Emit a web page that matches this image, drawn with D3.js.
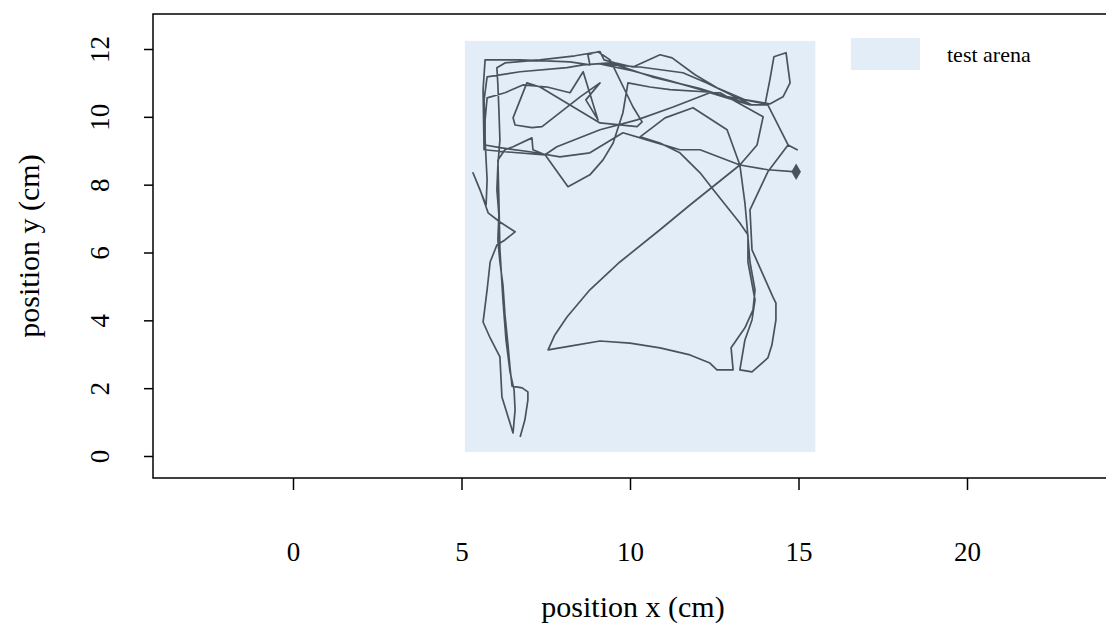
<!DOCTYPE html>
<html>
<head>
<meta charset="utf-8">
<script src="https://cdn.jsdelivr.net/npm/d3@7"></script>
<style>
  body { margin: 0; background: #fff; }
  svg { display: block; }
  text { font-family: "Liberation Serif", "Times New Roman", serif; fill: #000; }
</style>
</head>
<body>
<svg id="chart" width="1106" height="626"></svg>
<script>
// Axis ticks
const xTicks = [0, 5, 10, 15, 20];
const yTicks = [0, 2, 4, 6, 8, 10, 12];

// Arena extent (cm)
const arenaX = [5.1, 15.5];
const arenaY = [0.12, 12.24];
const legendLabel = "test arena";

// Tracked position over time (cm)
const trackX = [
  6.74, 6.88, 6.97, 6.97, 6.80, 6.50, 6.44, 6.38, 6.29, 6.23,
  6.14, 6.08, 6.11, 6.05, 6.08, 6.14, 6.11, 6.08, 6.05, 6.29,
  7.33, 8.37, 9.11, 9.23, 9.55, 10.09, 10.89, 11.25, 11.93, 12.58,
  13.41, 14.01, 14.15, 14.27, 14.63, 14.75, 14.54, 14.15,
  12.73, 11.19, 10.06, 9.11, 10.30, 11.57, 12.28, 13.62, 12.08, 10.65, 9.41,
  8.61, 8.13, 6.74, 5.76, 5.67, 5.70, 5.76,
  5.73, 5.34, 5.55, 5.79, 6.14, 6.59, 6.29, 6.05, 5.85, 5.76,
  5.64, 5.85, 6.14, 6.20, 6.53, 6.59, 6.56, 6.44, 6.32, 6.23,
  6.14, 6.11, 6.08, 6.29, 6.53, 7.09, 7.12, 7.48, 8.16, 8.81,
  9.20, 9.50, 9.79, 9.94, 10.59, 11.19, 12.67, 13.95, 13.77, 13.26,
  12.52, 11.78, 10.89, 9.70, 8.81, 8.13, 7.77, 7.57, 8.22, 9.11,
  10.00, 10.89, 11.78, 12.37, 12.58, 13.06, 13.00, 13.41, 13.65, 13.71,
  13.56, 13.47, 13.41, 13.26, 12.08, 11.48, 10.50, 9.79, 8.81, 7.92,
  7.03, 6.14, 5.70, 5.70, 5.76, 6.29, 6.82, 7.54, 8.22, 8.61,
  9.05, 8.69, 9.11, 8.52, 7.39, 7.09, 6.59, 6.53, 6.94, 7.33,
  9.11, 10.21, 10.36, 10.09, 9.41, 9.05, 8.75, 8.81, 8.22, 6.74,
  5.70, 5.64, 5.67, 6.29, 7.48, 7.83, 9.11, 10.21, 11.28, 12.37,
  13.56, 14.09, 14.69, 14.96, 14.69, 14.09, 13.56, 13.62, 14.24, 14.33,
  14.33, 14.21, 14.09, 13.62, 13.26, 13.41, 13.62, 13.71, 13.50, 13.50,
  13.26, 12.52, 12.08, 11.48, 10.89, 10.30, 11.04, 11.87, 12.88, 13.26,
  14.09, 14.93
];
const trackY = [
  0.56, 1.06, 1.65, 1.89, 2.01, 2.06, 2.60, 3.27, 4.16, 5.04,
  5.72, 6.37, 7.11, 7.85, 8.58, 9.32, 10.21, 10.94, 11.45, 11.59,
  11.68, 11.80, 11.92, 11.68, 11.59, 11.47, 11.83, 11.74, 11.24, 10.86,
  10.50, 10.38, 11.09, 11.77, 11.89, 11.00, 10.59, 10.38,
  10.62, 11.06, 11.36, 11.56, 11.47, 11.30, 11.00, 10.35, 10.83, 11.18, 11.59,
  11.53, 11.45, 11.33, 11.18, 10.50, 9.32, 8.14,
  7.40, 8.35, 7.85, 7.17, 6.90, 6.61, 6.37, 6.22, 5.72, 4.90,
  3.95, 3.48, 2.92, 1.74, 0.68, 1.36, 1.95, 2.48, 3.42, 4.60,
  6.08, 7.55, 8.73, 9.03, 9.12, 9.38, 9.03, 8.88, 7.94, 8.29,
  8.73, 9.23, 10.12, 11.00, 10.88, 10.80, 10.71, 10.00, 9.17, 8.58,
  7.99, 7.40, 6.67, 5.72, 4.90, 4.10, 3.57, 3.13, 3.24, 3.39,
  3.33, 3.19, 2.98, 2.74, 2.54, 2.54, 3.19, 3.78, 4.31, 4.90,
  5.72, 6.81, 7.46, 8.58, 9.03, 9.03, 9.32, 9.53, 8.94, 8.82,
  8.97, 9.09, 9.17, 9.91, 10.56, 10.71, 10.94, 10.88, 10.71, 11.33,
  9.91, 10.50, 11.00, 10.59, 9.71, 9.68, 9.76, 9.97, 11.00, 10.88,
  9.82, 9.71, 9.85, 10.29, 11.68, 11.92, 11.83, 11.53, 11.62, 11.68,
  11.68, 10.80, 9.03, 8.97, 8.88, 9.12, 9.62, 9.91, 10.29, 10.71,
  10.35, 10.35, 9.17, 9.03, 9.17, 8.38, 7.26, 6.08, 4.69, 4.51,
  4.01, 3.27, 2.89, 2.48, 2.54, 3.42, 4.01, 4.60, 5.72, 6.52,
  6.87, 7.79, 8.35, 8.94, 9.23, 9.41, 9.97, 10.27, 9.62, 8.58,
  8.44, 8.38
];

const svg = d3.select("#chart");
const frame = { left: 153, right: 1113, top: 14, bottom: 478 };

const x = d3.scaleLinear().domain([0, 20]).range([293, 967]);
const y = d3.scaleLinear().domain([0, 12]).range([456, 49]);

const arenaFill = "#e3edf7";
const trackColor = "#48535e";

// Arena background
svg.append("rect")
  .attr("x", x(arenaX[0]))
  .attr("y", y(arenaY[1]))
  .attr("width", x(arenaX[1]) - x(arenaX[0]))
  .attr("height", y(arenaY[0]) - y(arenaY[1]))
  .attr("fill", arenaFill);

// Trajectory
const points = trackX.map((v, i) => [v, trackY[i]]);
svg.append("path")
  .datum(points)
  .attr("d", d3.line().x(d => x(d[0])).y(d => y(d[1])))
  .attr("fill", "none")
  .attr("stroke", trackColor)
  .attr("stroke-width", 1.7)
  .attr("stroke-linejoin", "round");

// Final position marker
const last = points[points.length - 1];
svg.append("path")
  .attr("d", d3.symbol(d3.symbolDiamond, 80)())
  .attr("transform", `translate(${x(last[0])},${y(last[1])})`)
  .attr("fill", trackColor);

// Plot frame (open on the right)
svg.append("path")
  .attr("d", `M${frame.right + 20},${frame.top}H${frame.left}V${frame.bottom}H${frame.right + 20}`)
  .attr("fill", "none")
  .attr("stroke", "#000")
  .attr("stroke-width", 1.5);

// X axis
const xAxis = svg.append("g")
  .attr("transform", `translate(0,${frame.bottom})`)
  .call(d3.axisBottom(x).tickValues(xTicks).tickSize(12).tickPadding(52).tickFormat(d3.format("d")));
xAxis.select(".domain").remove();
xAxis.selectAll("line").attr("stroke", "#000").attr("stroke-width", 1.5);
xAxis.selectAll("text").attr("font-size", 27).attr("font-family", "Liberation Serif");

// Y axis with rotated labels
const yAxis = svg.append("g")
  .attr("transform", `translate(${frame.left},0)`)
  .call(d3.axisLeft(y).tickValues(yTicks).tickSize(9).tickFormat(d3.format("d")));
yAxis.select(".domain").remove();
yAxis.selectAll("line").attr("stroke", "#000").attr("stroke-width", 1.5);
yAxis.selectAll("text")
  .attr("x", null)
  .attr("dy", "0.35em")
  .attr("text-anchor", "middle")
  .attr("transform", "translate(-53,0) rotate(-90)")
  .attr("font-size", 27)
  .attr("font-family", "Liberation Serif");

// Axis titles
svg.append("text")
  .attr("x", (frame.left + frame.right) / 2)
  .attr("y", 617)
  .attr("text-anchor", "middle")
  .attr("font-size", 30)
  .text("position x (cm)");

svg.append("text")
  .attr("transform", `translate(39,${(frame.top + frame.bottom) / 2}) rotate(-90)`)
  .attr("text-anchor", "middle")
  .attr("font-size", 30)
  .text("position y (cm)");

// Legend
svg.append("rect")
  .attr("x", 851).attr("y", 38).attr("width", 69).attr("height", 32)
  .attr("fill", arenaFill);
svg.append("text")
  .attr("x", 947).attr("y", 54).attr("dy", "0.35em")
  .attr("font-size", 22)
  .text(legendLabel);
</script>
</body>
</html>
